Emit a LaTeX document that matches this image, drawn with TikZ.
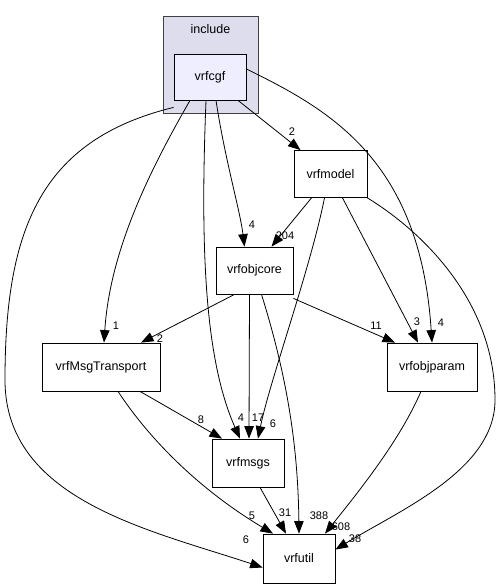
\documentclass[tikz,border=0pt]{standalone}
\usepackage{fontspec}
\setmainfont{Liberation Sans}
\usetikzlibrary{arrows.meta}
\begin{document}
\begin{tikzpicture}[x=1pt,y=-1pt,
  box/.style={draw=black,fill=white,line width=0.8pt,inner sep=0pt,font=\fontsize{12.5}{15}\selectfont},
  edge/.style={draw=black,line width=0.8pt,-{Triangle[length=12.5pt,width=9.5pt]}},
  lbl/.style={font=\fontsize{11}{13}\selectfont,inner sep=0pt}]
\useasboundingbox (0,0) rectangle (501,588);
% cluster
\node[draw=black!75,fill={rgb,255:red,221;green,221;blue,238},line width=0.9pt,minimum width=95pt,minimum height=97pt,inner sep=0pt] (cl) at (210.5,64.5) {};
\node[font=\fontsize{12.5}{15}\selectfont,inner sep=0pt] (cllbl) at (210.5,29) {include};
% nodes
\node[box,fill={rgb,255:red,238;green,238;blue,255},minimum width=72pt,minimum height=46pt] (cgf) at (210,77) {vrfcgf};
\node[box,minimum width=73pt,minimum height=47pt] (model) at (330.5,174) {vrfmodel};
\node[box,minimum width=77pt,minimum height=47pt] (core) at (254.5,270.5) {vrfobjcore};
\node[box,minimum width=118pt,minimum height=48pt] (mt) at (101,367) {vrfMsgTransport};
\node[box,minimum width=90pt,minimum height=48pt] (param) at (432,367) {vrfobjparam};
\node[box,minimum width=72pt,minimum height=48pt] (msgs) at (248,463) {vrfmsgs};
\node[box,minimum width=72pt,minimum height=49pt] (util) at (299,558.5) {vrfutil};
% edges from vrfcgf
\draw[edge] ([xshift=28pt]cgf.south) -- ([xshift=-30pt]model.north);
\node[lbl] (l1) at (292,132) {2};
\draw[edge] ([xshift=6pt]cgf.south) .. controls (225,160) and (240,210) .. ([xshift=-10pt]core.north);
\node[lbl] (l2) at (252,225) {4};
\draw[edge] ([xshift=-20pt]cgf.south) .. controls (150,170) and (110,250) .. ([xshift=3pt]mt.north);
\node[lbl] (l3) at (116,326) {1};
\draw[edge] ([xshift=-4pt]cgf.south) .. controls (200,250) and (205,360) .. ([xshift=-8pt]msgs.north);
\node[lbl] (l4) at (241,418) {4};
\draw[edge] ([yshift=-7pt]cgf.south west) .. controls (40,140) and (5,230) .. (5,380) .. controls (5,500) and (150,530) .. ([yshift=-9pt]util.west);
\node[lbl] (l5) at (246,540) {6};
\draw[edge] ([yshift=8pt]cgf.east) .. controls (330,110) and (420,160) .. ([xshift=0pt]param.north);
\node[lbl] (l6) at (441,323) {4};
% edges from vrfmodel
\draw[edge] ([xshift=-19pt]model.south) -- ([xshift=17pt]core.north);
\node[lbl] (l7) at (285,236) {204};
\draw[edge] ([xshift=-6pt]model.south) .. controls (310,270) and (270,380) .. ([xshift=10pt]msgs.north);
\node[lbl] (l8) at (273,424) {6};
\draw[edge] ([xshift=12pt]model.south) -- ([xshift=-14pt]param.north);
\node[lbl] (l9) at (417,322) {3};
\draw[edge] (model.south east) .. controls (420,230) and (495,300) .. (495,400) .. controls (495,470) and (400,510) .. ([yshift=-16pt]util.north east);
\node[lbl] (l10) at (355,539) {38};
% edges from vrfobjcore
\draw[edge] ([xshift=-20pt]core.south) -- ([xshift=40pt]mt.north);
\node[lbl] (l11) at (160,339) {2};
\draw[edge] ([xshift=-5pt]core.south) -- ([xshift=1pt]msgs.north);
\node[lbl] (l12) at (258,418) {17};
\draw[edge] ([yshift=-4pt]core.south east) -- ([xshift=-37pt]param.north);
\node[lbl] (l13) at (376,326) {11};
\draw[edge] ([xshift=7pt]core.south) .. controls (285,370) and (298,440) .. ([xshift=0pt]util.north);
\node[lbl] (l14) at (319,516) {388};
% others
\draw[edge] ([xshift=39pt]mt.south) -- ([xshift=-26pt]msgs.north);
\node[lbl] (l15) at (201,420) {8};
\draw[edge] ([xshift=17pt]mt.south) .. controls (150,440) and (200,490) .. ([xshift=-26pt]util.north);
\node[lbl] (l16) at (252,516) {5};
\draw[edge] ([xshift=12pt]msgs.south) -- ([xshift=-13pt]util.north);
\node[lbl] (l17) at (285,513) {31};
\draw[edge] ([xshift=-11pt]param.south) .. controls (400,440) and (360,490) .. ([xshift=26pt]util.north);
\node[lbl] (l18) at (341,527) {608};
\end{tikzpicture}
\end{document}
